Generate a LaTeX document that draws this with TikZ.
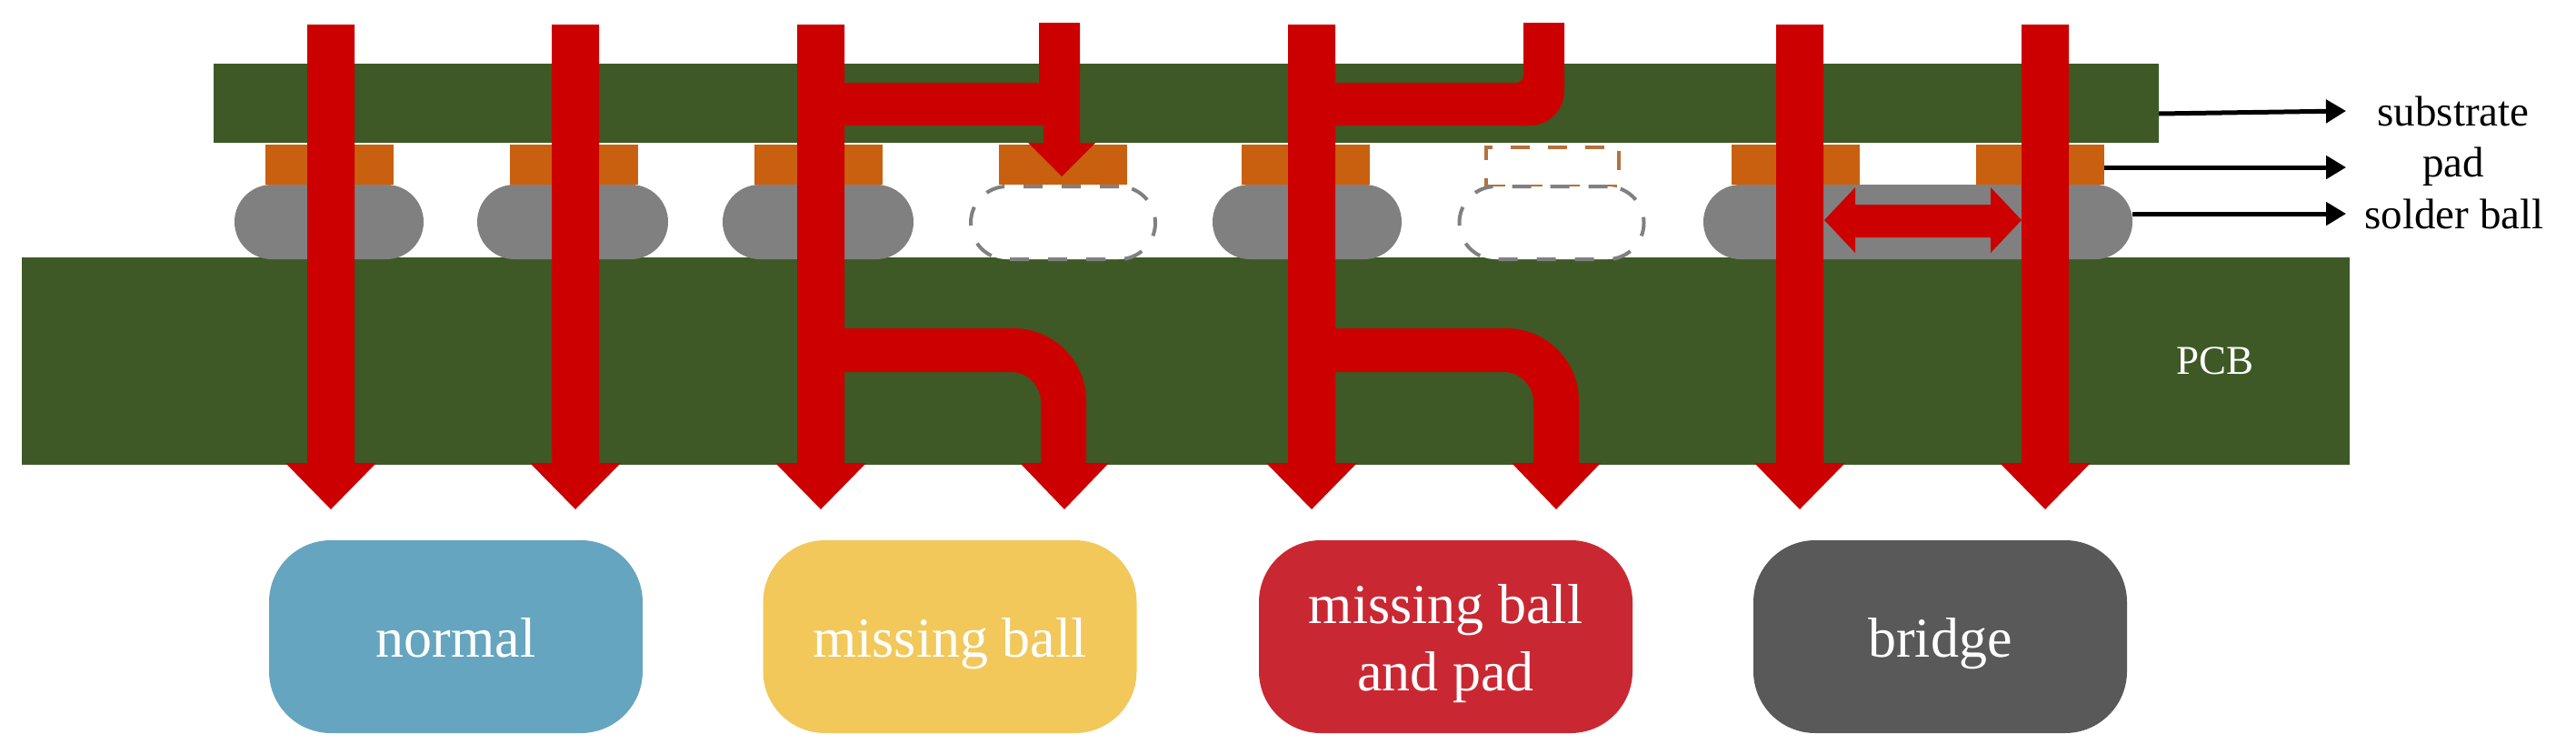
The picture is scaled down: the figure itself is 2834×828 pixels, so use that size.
\documentclass[tikz,border=0pt]{standalone}
\usepackage{fontspec}
\setmainfont{Liberation Serif}
\usetikzlibrary{arrows.meta}
\definecolor{boardgreen}{HTML}{3E5925}
\definecolor{sigred}{HTML}{CC0000}
\definecolor{padorange}{HTML}{C9600F}
\definecolor{ballgray}{HTML}{808080}
\definecolor{padbrown}{HTML}{B5713C}
\definecolor{boxblue}{HTML}{65A5C0}
\definecolor{boxyellow}{HTML}{F2C85B}
\definecolor{boxred}{HTML}{C92832}
\definecolor{boxgray}{HTML}{595959}
\newcommand{\sigarrow}[1]{\fill[sigred] (#1-26,27) -- (#1+26,27) -- (#1+26,509) -- (#1+50,509) -- (#1,560) -- (#1-50,509) -- (#1-26,509) -- cycle;}
\newcommand{\sighead}[1]{\fill[sigred] (#1-49,509) -- (#1+49,509) -- (#1,560) -- cycle;}
\tikzset{
  board/.style={fill=boardgreen,inner sep=0pt,outer sep=0pt},
  padbox/.style={fill=padorange,inner sep=0pt,outer sep=0pt,minimum width=141pt,minimum height=44pt},
  ballbox/.style={fill=ballgray,inner sep=0pt,outer sep=0pt,rounded corners=40.9pt,minimum height=82pt},
  ghostball/.style={draw=ballgray,fill=white,line width=4pt,dash pattern=on 21pt off 21pt,inner sep=0pt,outer sep=0pt,rounded corners=39.9pt,minimum width=203pt,minimum height=80pt},
  ghostpad/.style={draw=padbrown,line width=4pt,dash pattern=on 21pt off 20pt,inner sep=0pt,outer sep=0pt,minimum width=146pt,minimum height=43pt},
  casebox/.style={inner sep=0pt,outer sep=0pt,rounded corners=68pt,minimum width=411pt,minimum height=212pt,text=white,align=center,font=\fontsize{62}{74}\selectfont,text height=44pt,text depth=0pt},
  sidelabel/.style={inner sep=0pt,anchor=base,font=\fontsize{47}{50}\selectfont},
  callout/.style={line width=5pt,-{Triangle[length=22pt,width=25pt]}}
}
\begin{document}
\begin{tikzpicture}[x=1pt,y=-1pt]
\useasboundingbox (0,0) rectangle (2834,828);
% boards
\node[board,minimum width=2140pt,minimum height=87pt] (substrate) at (1305,113.5) {};
\node[board,minimum width=2561pt,minimum height=228pt] (pcb) at (1304.5,397) {};
% pads
\node[padbox] (p1) at (362,181) {};
\node[padbox] (p2) at (631,181) {};
\node[padbox] (p3) at (900,181) {};
\node[padbox] (p4) at (1169,181) {};
\node[padbox] (p5) at (1436.5,181) {};
\node[padbox] (p7) at (1975,181) {};
\node[padbox] (p8) at (2244,181) {};
\node[ghostpad] (p6) at (1708,183.5) {};
% balls
\node[ballbox,minimum width=208pt] (b1) at (362,244) {};
\node[ballbox,minimum width=210pt] (b2) at (630,244) {};
\node[ballbox,minimum width=210pt] (b3) at (900,244) {};
\node[ghostball] (b4) at (1169.5,245) {};
\node[ballbox,minimum width=208pt] (b5) at (1438,244) {};
\node[ghostball] (b6) at (1707,245) {};
\node[ballbox,minimum width=472pt] (b7) at (2110,244) {};
% straight signal paths
\sigarrow{364}
\sigarrow{633}
\sigarrow{903}
\sigarrow{1443}
\sigarrow{1980}
\sigarrow{2250}
% branch to the missing ball
\fill[sigred] (925,91) -- (1143,91) -- (1143,25) -- (1188,25) -- (1188,157) -- (1205,157) -- (1168,194) -- (1131,157) -- (1148,157) -- (1148,138) -- (925,138) -- cycle;
% branch for missing ball and pad
\fill[sigred] (1465,91) [rounded corners=8pt] -- (1676,91) [sharp corners] -- (1676,25) -- (1721,25) [rounded corners=38pt] -- (1721,138) [sharp corners] -- (1465,138) -- cycle;
% lower branches
\fill[sigred] (925,361) [rounded corners=80pt] -- (1195,361) [sharp corners] -- (1195,512) -- (1145,512) [rounded corners=33pt] -- (1145,409) [sharp corners] -- (925,409) -- cycle;
\sighead{1171}
\fill[sigred] (1465,361) [rounded corners=80pt] -- (1737,361) [sharp corners] -- (1737,512) -- (1687,512) [rounded corners=33pt] -- (1687,409) [sharp corners] -- (1465,409) -- cycle;
\sighead{1712}
% bridge double arrow
\fill[sigred] (2007,242) -- (2041,206) -- (2041,225) -- (2190,225) -- (2190,206) -- (2224,242) -- (2190,278) -- (2190,261) -- (2041,261) -- (2041,278) -- cycle;
% case boxes
\node[casebox,fill=boxblue] (normal) at (501.5,700) {normal};
\node[casebox,fill=boxyellow] (missball) at (1045,700) {missing ball};
\node[casebox,fill=boxred,text height=118pt,text depth=0pt] (misspad) at (1590.5,700) {missing ball\\and pad};
\node[casebox,fill=boxgray] (bridge) at (2134.5,700) {bridge};
% side labels
\node[sidelabel] (lsub) at (2699,138) {substrate};
\node[sidelabel] (lpad) at (2699,194) {pad};
\node[sidelabel] (lball) at (2700,251) {solder ball};
\node[sidelabel,text=white,font=\fontsize{45}{50}\selectfont] (lpcb) at (2437,411) {PCB};
% callouts
\coordinate (csub) at (2375,125);
\coordinate (esub) at (2581,122);
\coordinate (cpad) at (2315,184);
\coordinate (epad) at (2581,184);
\coordinate (cball) at (2346,235);
\coordinate (eball) at (2581,235);
\draw[callout] (csub) -- (esub);
\draw[callout] (cpad) -- (epad);
\draw[callout] (cball) -- (eball);
\end{tikzpicture}
\end{document}
